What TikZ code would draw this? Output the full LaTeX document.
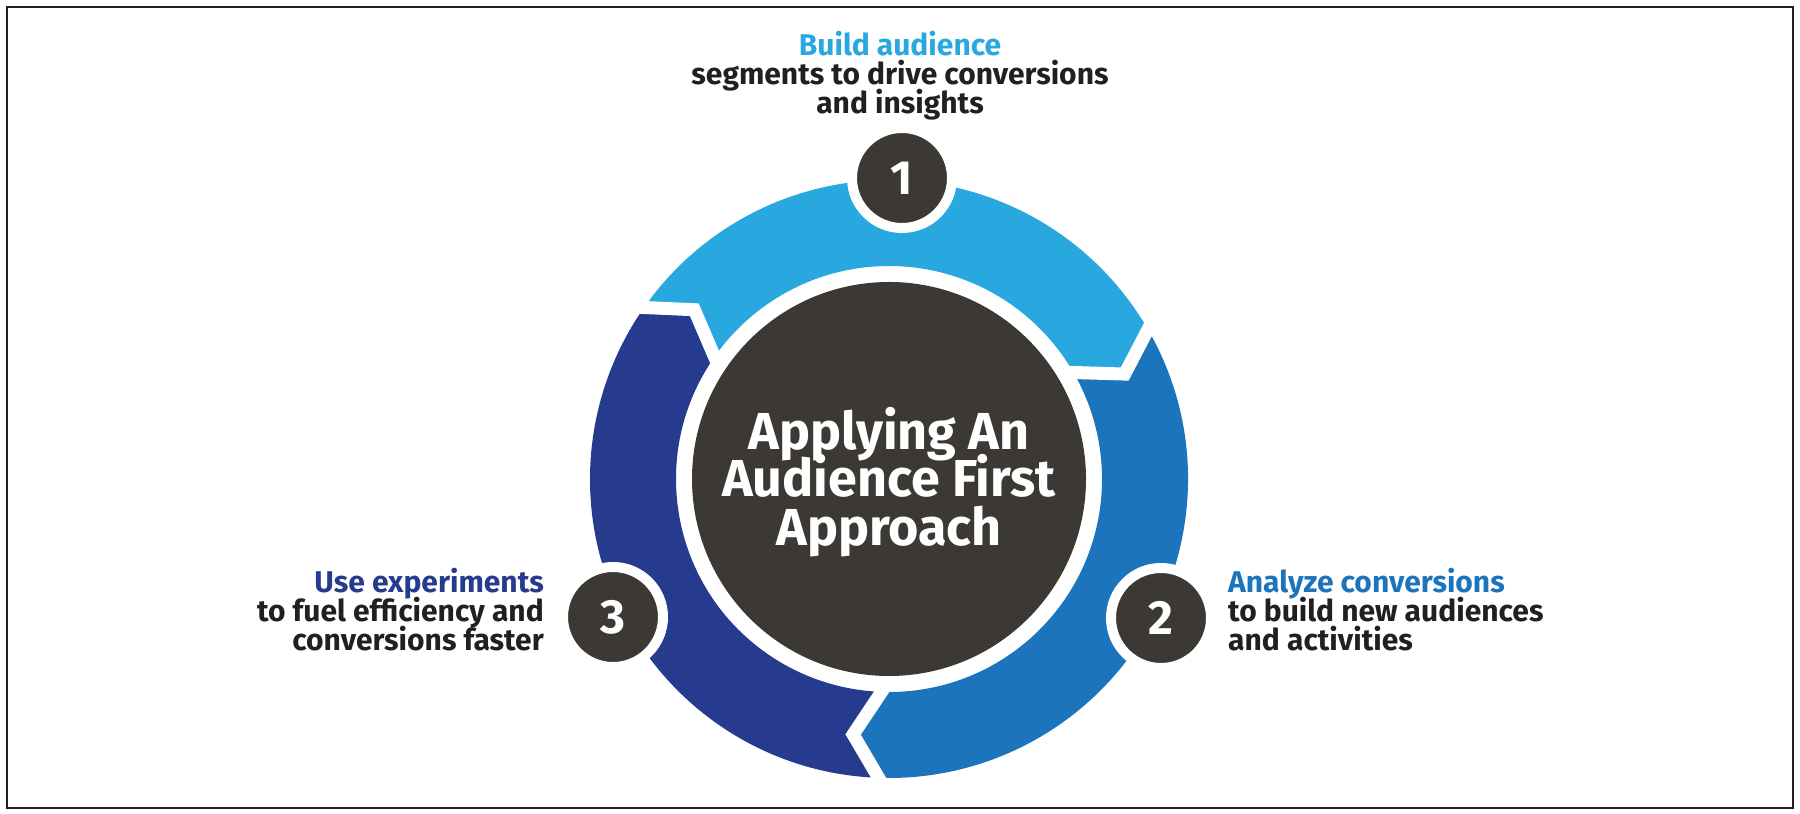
\documentclass[tikz,border=0pt]{standalone}
\usepackage{fontspec}
\setmainfont{Fira Sans}
\usetikzlibrary{calc}
\definecolor{lblue}{HTML}{29A8E0}
\definecolor{mblue}{HTML}{1C75BC}
\definecolor{navy}{HTML}{263A8E}
\definecolor{darkc}{HTML}{3C3935}
\definecolor{ink}{HTML}{231F20}
\begin{document}
\begin{tikzpicture}[x=1bp,y=1bp,
  lbl/.style={font=\fontsize{30bp}{30bp}\selectfont\bfseries, inner sep=0pt, text=ink},
  hubtxt/.style={font=\fontsize{52bp}{52bp}\selectfont\bfseries, inner sep=0pt, text=white, anchor=base},
  numc/.style={circle, fill=darkc, draw=white, line width=10bp, minimum size=100bp, inner sep=0pt,
    text=white, font=\fontsize{48bp}{48bp}\selectfont\bfseries},
  gap/.style={white, line width=13bp}]
\useasboundingbox (0,0) rectangle (1800,814);
\draw[ink, line width=2.5bp] (7,6) rectangle (1793,807);
\coordinate (C) at (889,335);
\begin{scope}[shift={(C)}]
  % segment 1 (light blue)
  \fill[lblue] (145:213) -- (139:258) -- (145:299) arc[start angle=145, end angle=30, radius=299]
    -- (24:258) -- (30:213) arc[start angle=30, end angle=145, radius=213] -- cycle;
  % segment 2 (blue)
  \fill[mblue] (30:213) -- (24:258) -- (30:299) arc[start angle=30, end angle=-92, radius=299]
    -- (-98:258) -- (-92:213) arc[start angle=-92, end angle=30, radius=213] -- cycle;
  % segment 3 (navy)
  \fill[navy] (-92:213) -- (-98:258) -- (-92:299) arc[start angle=-92, end angle=-215, radius=299]
    -- (-221:258) -- (-215:213) arc[start angle=-215, end angle=-92, radius=213] -- cycle;
  \foreach \t in {30,145,-92} {
    \draw[gap] ($(\t-6:258)!1.25!(\t:213)$) -- (\t-6:258) -- ($(\t-6:258)!1.25!(\t:299)$);
  }
\end{scope}
\node[circle, fill=darkc, minimum size=394bp, inner sep=0pt] (hub) at (C) {};
\node[hubtxt] (h1) at (889,364) {Applying An};
\node[hubtxt] (h2) at (889,317) {Audience First};
\node[hubtxt] (h3) at (889,268) {Approach};
\node[numc] (n1) at (902,636) {1};
\node[numc] (n2) at (1161,196) {2};
\node[numc] (n3) at (613,197) {3};
% top label
\node[lbl, anchor=base, text=lblue] (t1) at (900,758) {Build audience};
\node[lbl, anchor=base] (t2) at (900,729) {segments to drive conversions};
\node[lbl, anchor=base] (t3) at (900,700) {and insights};
% right label
\node[lbl, anchor=base west, text=mblue] (r1) at (1228,221) {Analyze conversions};
\node[lbl, anchor=base west] (r2) at (1228,192) {to build new audiences};
\node[lbl, anchor=base west] (r3) at (1228,163) {and activities};
% left label
\node[lbl, anchor=base east, text=navy] (l1) at (544,221) {Use experiments};
\node[lbl, anchor=base east] (l2) at (544,192) {to fuel efficiency and};
\node[lbl, anchor=base east] (l3) at (544,163) {conversions faster};
\end{tikzpicture}
\end{document}
